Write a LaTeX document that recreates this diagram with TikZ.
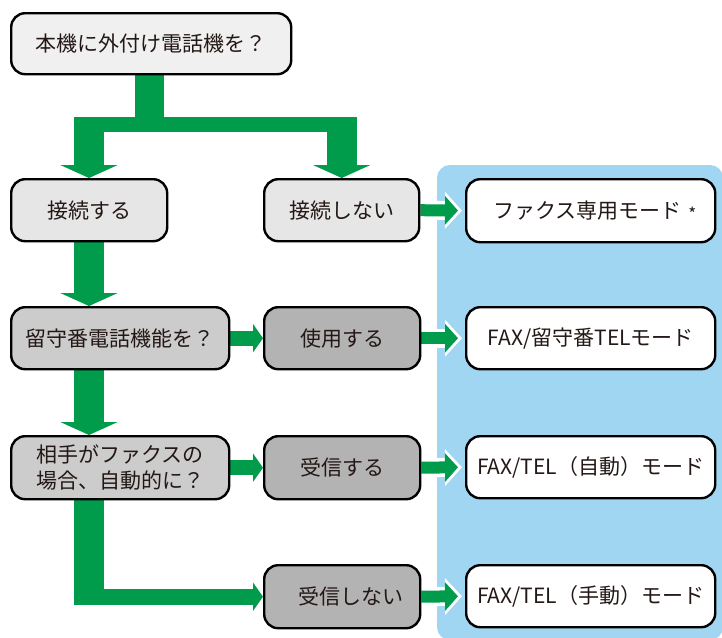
\documentclass[tikz,border=0pt]{standalone}
\usepackage{fontspec}
\setmainfont{Noto Sans CJK JP}
\usetikzlibrary{arrows.meta,calc}
\pgfdeclarelayer{bg}
\pgfsetlayers{bg,main}
\definecolor{flowgreen}{RGB}{0,155,75}
\definecolor{panelblue}{RGB}{160,214,241}
\definecolor{gA}{RGB}{240,240,240}
\definecolor{gB}{RGB}{230,230,230}
\definecolor{gC}{RGB}{204,204,204}
\definecolor{gD}{RGB}{179,179,179}
\definecolor{inkc}{RGB}{35,24,21}
\tikzset{
  box/.style={draw=black, line width=2.4pt, rounded corners=14pt, text=inkc,
    font=\fontsize{21}{26}\selectfont, align=center, inner sep=0pt, anchor=north west},
  vline/.style={flowgreen, line width=30pt},
  varrow/.style={flowgreen, line width=30pt, -{Triangle[width=57pt,length=13pt]}},
  harrow/.style={flowgreen, line width=15pt, -{Triangle[width=28pt,length=10pt]}},
  parrowbg/.style={white, line width=19pt, -{Triangle[width=36pt,length=17pt]}, shorten >=3pt},
  parrow/.style={flowgreen, line width=12pt, -{Triangle[width=28pt,length=13pt]}, shorten >=7pt},
}
\begin{document}
\begin{tikzpicture}[x=1pt,y=-1pt]
\useasboundingbox (0,0) rectangle (722,637);

% nodes
\node[box, fill=gA, minimum width=280pt, minimum height=61pt] (top) at (10,12) {本機に外付け電話機を？};
\node[box, fill=gB, minimum width=156pt, minimum height=62pt] (c1) at (10,178) {接続する};
\node[box, fill=gB, minimum width=155pt, minimum height=62pt] (c2) at (263,178) {接続しない};
\node[box, fill=gC, minimum width=218pt, minimum height=62pt] (m1) at (10,306) {留守番電話機能を？};
\node[box, fill=gC, minimum width=218pt, minimum height=63pt] (m2) at (10,435) {相手がファクスの\\場合、自動的に？};
\node[box, fill=gD, minimum width=156pt, minimum height=62pt] (u1) at (263,306) {使用する};
\node[box, fill=gD, minimum width=156pt, minimum height=63pt] (u2) at (263,435) {受信する};
\node[box, fill=gD, minimum width=156pt, minimum height=63pt] (u3) at (263,564) {\hspace*{18pt}受信しない};
\node[box, fill=white, minimum width=249pt, minimum height=63pt] (r1) at (465,178) {\hspace*{8pt}ファクス専用モード\hspace{7pt}\raisebox{-2.5pt}{\fontsize{17}{17}\selectfont *}};
\node[box, fill=white, minimum width=249pt, minimum height=62pt] (r2) at (465,306) {FAX/留守番TELモード};
\node[box, fill=white, minimum width=249pt, minimum height=62pt] (r3) at (465,435) {FAX/TEL（自動）モード};
\node[box, fill=white, minimum width=249pt, minimum height=62pt] (r4) at (465,564) {FAX/TEL（手動）モード};

\coordinate (lane) at (89,0);
\coordinate (split) at ($(top.south)+(-2,49)$);

\begin{pgfonlayer}{bg}
  % blue panel
  \begin{scope}
    \clip (0,0) rectangle (722,637);
    \fill[panelblue, rounded corners=13pt] (437,165) rectangle (723,640);
  \end{scope}
  % top split
  \draw[flowgreen, line width=29pt] (top.south -| split) -- (split);
  \draw[flowgreen, line width=15pt] ($(lane |- split)+(-15,0)$) -- ($(c2.north |- split)+(15,0)$);
  \draw[varrow] ($(lane |- split)+(0,-7)$) -- (c1.north -| lane);
  \draw[varrow] ($(c2.north |- split)+(0,-7)$) -- (c2.north);
  % left column
  \draw[varrow] (c1.south -| lane) -- (m1.north -| lane);
  \draw[varrow] (m1.south -| lane) -- (m2.north -| lane);
  \draw[vline] (m2.south -| lane) -- ($(lane |- u3.west)+(0,8)$);
  \draw[harrow, line width=16pt] ($(lane |- u3.west)+(-15,0)$) -- (u3.west);
  \draw[harrow] (m1.east) -- (u1.west);
  \draw[harrow] (m2.east) -- (u2.west);
  % into panel
  \foreach \a/\b in {c2/r1, u1/r2, u2/r3, u3/r4} {
    \draw[parrowbg] (\a.east) -- (\b.west);
    \draw[parrow] (\a.east) -- (\b.west);
  }
\end{pgfonlayer}
\end{tikzpicture}
\end{document}
